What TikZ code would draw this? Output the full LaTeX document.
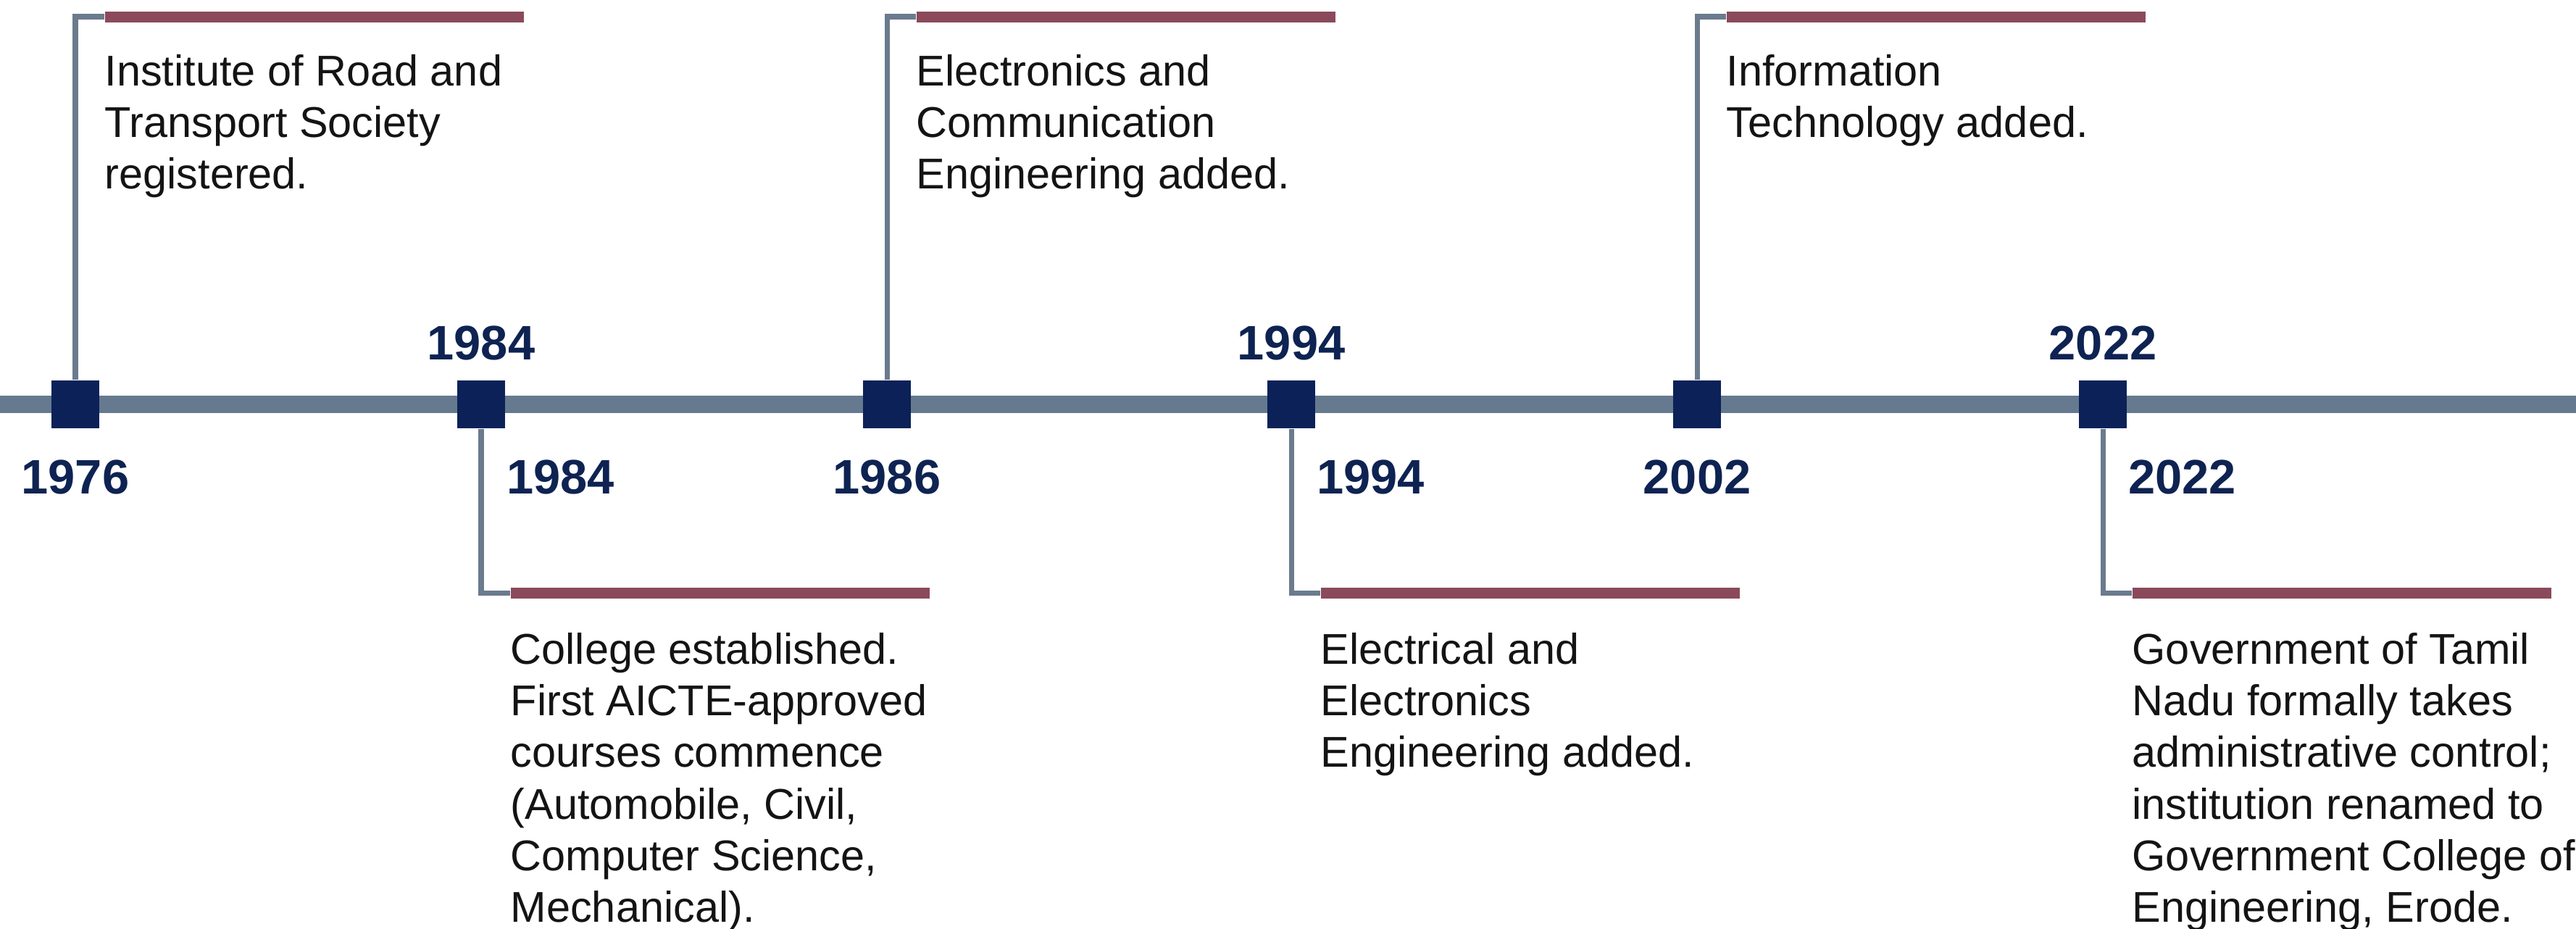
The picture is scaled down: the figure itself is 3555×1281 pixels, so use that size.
\documentclass[tikz,border=0pt]{standalone}
\usepackage{fontspec}
\setmainfont{Liberation Sans}
\usetikzlibrary{positioning}

\definecolor{axisgrey}{HTML}{657A8E}
\definecolor{stemgrey}{HTML}{6B7B8E}
\definecolor{marknavy}{HTML}{0B2158}
\definecolor{yearnavy}{HTML}{0E2352}
\definecolor{barmaroon}{HTML}{8A4A5B}
\definecolor{bodyblack}{HTML}{141414}

\begin{document}
\begin{tikzpicture}[x=0.01cm, y=-0.01cm,
    marker/.style={rectangle, fill=marknavy, minimum size=0.66cm, inner sep=0pt},
    year/.style={text=yearnavy, inner sep=0pt, font=\fontsize{19}{22}\selectfont\bfseries},
    bar/.style={rectangle, fill=barmaroon, minimum width=5.78cm, minimum height=0.15cm, inner sep=0pt, anchor=west},
    stem/.style={draw=stemgrey, line width=2pt},
    desc/.style={text=bodyblack, inner sep=0pt, align=left, font=\fontsize{16.9}{20.3}\selectfont}]
    \useasboundingbox[fill=white] (0,0) rectangle (3555,1281);

    % timeline
    \coordinate (tlstart) at (0,558);
    \coordinate (tlend) at (3555,558);
    \draw[axisgrey, line width=6.6pt] (tlstart) -- (tlend);

    % markers
    \node (m1976) [marker] at (104,558) {};
    \node (m1984) [marker] at (664,558) {};
    \node (m1986) [marker] at (1224,558) {};
    \node (m1994) [marker] at (1782,558) {};
    \node (m2002) [marker] at (2342,558) {};
    \node (m2022) [marker] at (2902,558) {};

    % 1976 (above)
    \node (bar1976) [bar] at (144,23) {};
    \draw[stem] (m1976.north) |- (bar1976.west);
    \node (y1976) [year, below=0.42cm of m1976] {1976};
    \node (t1976) [desc, below right=0.43cm and 0cm of bar1976.south west] {Institute of Road and\\Transport Society\\registered.};

    % 1984 (below)
    \node (bar1984) [bar] at (704,818) {};
    \draw[stem] (m1984.south) |- (bar1984.west);
    \node (ya1984) [year, above=0.26cm of m1984] {1984};
    \node (yb1984) [year, below right=0.42cm and 0.01cm of m1984.south east] {1984};
    \node (t1984) [desc, below right=0.46cm and 0cm of bar1984.south west] {College established.\\First AICTE-approved\\courses commence\\(Automobile, Civil,\\Computer Science,\\Mechanical).};

    % 1986 (above)
    \node (bar1986) [bar] at (1264,23) {};
    \draw[stem] (m1986.north) |- (bar1986.west);
    \node (y1986) [year, below=0.42cm of m1986] {1986};
    \node (t1986) [desc, below right=0.43cm and 0cm of bar1986.south west] {Electronics and\\Communication\\Engineering added.};

    % 1994 (below)
    \node (bar1994) [bar] at (1822,818) {};
    \draw[stem] (m1994.south) |- (bar1994.west);
    \node (ya1994) [year, above=0.26cm of m1994] {1994};
    \node (yb1994) [year, below right=0.42cm and 0.01cm of m1994.south east] {1994};
    \node (t1994) [desc, below right=0.46cm and 0cm of bar1994.south west] {Electrical and\\Electronics\\Engineering added.};

    % 2002 (above)
    \node (bar2002) [bar] at (2382,23) {};
    \draw[stem] (m2002.north) |- (bar2002.west);
    \node (y2002) [year, below=0.42cm of m2002] {2002};
    \node (t2002) [desc, below right=0.43cm and 0cm of bar2002.south west] {Information\\Technology added.};

    % 2022 (below)
    \node (bar2022) [bar] at (2942,818) {};
    \draw[stem] (m2022.south) |- (bar2022.west);
    \node (ya2022) [year, above=0.26cm of m2022] {2022};
    \node (yb2022) [year, below right=0.42cm and 0.01cm of m2022.south east] {2022};
    \node (t2022) [desc, below right=0.46cm and 0cm of bar2022.south west] {Government of Tamil\\Nadu formally takes\\administrative control;\\institution renamed to\\Government College of\\Engineering, Erode.};
\end{tikzpicture}
\end{document}
